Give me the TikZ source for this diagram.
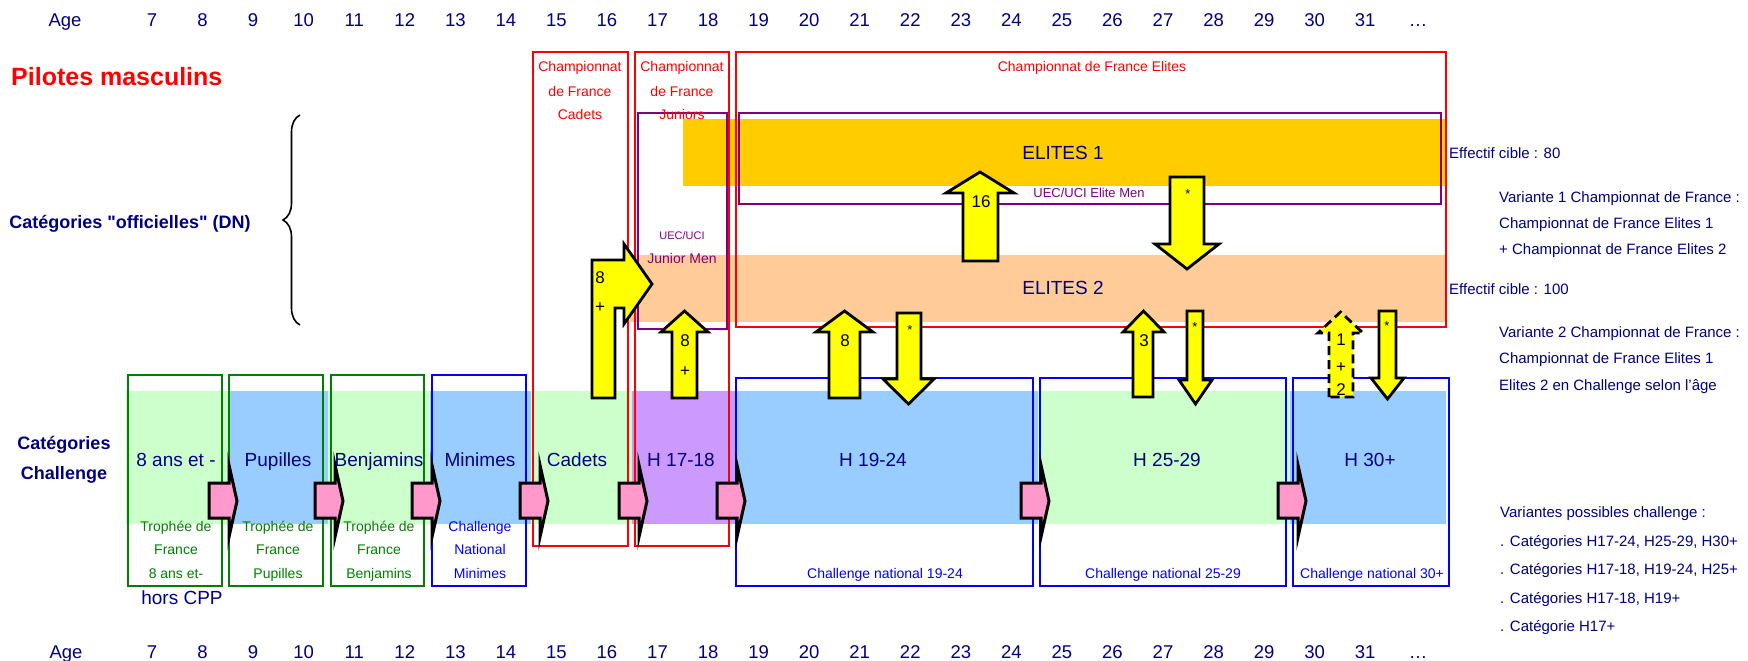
\documentclass[tikz,border=0pt]{standalone}
\usepackage{fontspec}
\setmainfont{Liberation Sans}
\newfontfamily\plainqfont{Liberation Sans}
\usetikzlibrary{decorations.pathreplacing}
\definecolor{navy}{HTML}{000080}
\definecolor{cRed}{HTML}{FF0000}
\definecolor{cPurp}{HTML}{800080}
\definecolor{cGreen}{HTML}{008000}
\definecolor{cBlue}{HTML}{0000FF}
\definecolor{bOrange}{HTML}{FFCC00}
\definecolor{bPeach}{HTML}{FFCC99}
\definecolor{bGreen}{HTML}{CCFFCC}
\definecolor{bBlue}{HTML}{99CCFF}
\definecolor{bPurp}{HTML}{CC99FF}
\definecolor{cPink}{HTML}{FF99CC}
\definecolor{cYel}{HTML}{FFFF00}
\newcommand{\fsz}[1]{\fontsize{#1}{#1}\selectfont}
\newcommand{\ArrP}[8]{\path[#1] (#2,#4) -- (#2,#5) -- (#6,#5) -- ({(#6+#7)/2},#8) -- (#7,#5) -- (#3,#5) -- (#3,#4) -- cycle;}
\tikzset{
  agelab/.style={inner sep=0pt, font=\fsz{18.5}, text=navy, text height=13.3pt, text depth=0pt},
  catlab/.style={inner sep=0pt, font=\fsz{19}, text=navy, text height=13.7pt, text depth=0pt},
  smlab/.style={inner sep=0pt, font=\fsz{14}, text height=10pt, text depth=0pt},
  tinylab/.style={inner sep=0pt, font=\fsz{11}, text height=8pt, text depth=0pt},
  rtlab/.style={inner sep=0pt, font=\fsz{15}, text=navy, anchor=west, text height=10.8pt, text depth=0pt},
  boldlab/.style={inner sep=0pt, font=\plainqfont\bfseries\fsz{18}, text=navy, text height=13pt, text depth=0pt},
  arrlab/.style={inner sep=0pt, font=\fsz{17}, text=black, text height=12.2pt, text depth=0pt},
  starlab/.style={inner sep=0pt, font=\fsz{13}, text=black},
  redbox/.style={draw=cRed, line width=2.8pt},
  purpbox/.style={draw=cPurp, line width=2.8pt},
  greenbox/.style={draw=cGreen, line width=2.8pt},
  bluebox/.style={draw=cBlue, line width=2.8pt},
  yarr/.style={fill=cYel, draw=black, line width=2.8pt},
  pinkarr/.style={fill=cPink, draw=black, line width=3pt},
}
\begin{document}
\begin{tikzpicture}[x=1pt,y=-1pt]
\useasboundingbox[fill=white] (0,0) rectangle (1748,661);

% ---- bands
\fill[bOrange] (683,119) rectangle (1446,186);
\fill[bPeach] (630,255) rectangle (1446,322);
\fill[bGreen] (126,391) rectangle (228,524);
\fill[bBlue] (228,391) rectangle (328,524);
\fill[bGreen] (328,391) rectangle (430,524);
\fill[bBlue] (430,391) rectangle (531,524);
\fill[bGreen] (531,391) rectangle (632,524);
\fill[bPurp] (632,391) rectangle (736,524);
\fill[bBlue] (736,391) rectangle (1038,524);
\fill[bGreen] (1038,391) rectangle (1290,524);
\fill[bBlue] (1290,391) rectangle (1446,524);

% ---- championship boxes
\draw[redbox] (533,52) rectangle (628,546);
\draw[redbox] (635,52) rectangle (729,546);
\draw[redbox] (736,52) rectangle (1446,327);
\draw[purpbox] (638,113) rectangle (727,329);
\draw[purpbox] (739,113) rectangle (1441,204);

% ---- challenge boxes
\draw[greenbox] (128,375) rectangle (222,586);
\draw[greenbox] (229,375) rectangle (323,586);
\draw[greenbox] (331,375) rectangle (424,586);
\draw[bluebox] (432,375) rectangle (526,586);
\draw[bluebox] (736,378) rectangle (1033,586);
\draw[bluebox] (1040,378) rectangle (1286,586);
\draw[bluebox] (1293,378) rectangle (1449,586);

% ---- brace
\draw[line width=1.6pt, decorate, decoration={brace, amplitude=17pt}] (300,325) -- (300,115);

% ---- pink arrows
\foreach \x in {209,315,412,520,619,717,1021,1278}
  \path[pinkarr] (\x,483) -- (\x+20,483) -- (\x+20,465) -- (\x+28,501) -- (\x+20,537) -- (\x+20,518) -- (\x,518) -- cycle;

% ---- yellow arrows
\path[yarr] (592,398) -- (592,260) -- (624,260) -- (624,244) -- (652,284) -- (624,324) -- (624,308) -- (615,308) -- (615,398) -- cycle;
\ArrP{yarr}{672}{697}{398}{332}{661}{708}{311}
\ArrP{yarr}{963}{998}{261}{193}{946}{1014}{172}
\ArrP{yarr}{1170}{1204}{177}{244}{1155}{1219}{269}
\ArrP{yarr}{829}{860}{398}{332}{816}{873}{311}
\ArrP{yarr}{897}{921}{313}{379}{883}{934}{404}
\ArrP{yarr}{1133}{1153}{397}{332}{1123}{1164}{311}
\ArrP{yarr}{1187}{1203}{311}{380}{1179}{1212}{404}
\ArrP{yarr,dash pattern=on 9pt off 5pt}{1329}{1353}{397}{333}{1318}{1363}{312}
\ArrP{yarr}{1379}{1396}{311}{378}{1371}{1404}{399}

% ---- arrow labels
\node[arrlab] (l8a) at (600,277) {8};
\node[arrlab] (lpa) at (600,306) {+};
\node[arrlab] (l8b) at (685,340) {8};
\node[arrlab] (lpb) at (685,370) {+};
\node[arrlab] (l16) at (981,201) {16};
\node[starlab] (s1) at (1188,194) {*};
\node[arrlab] (l8c) at (845,340) {8};
\node[starlab] (s2) at (910,330) {*};
\node[arrlab] (l3) at (1144,340) {3};
\node[starlab] (s3) at (1195,327) {*};
\node[arrlab] (l1) at (1341,339) {1};
\node[arrlab] (lpd) at (1341,366) {+};
\node[arrlab] (l2) at (1341,389) {2};
\node[starlab] (s4) at (1387,326) {*};

% ---- age rows
\node[agelab] (agetop) at (65,20) {Age};
\node[agelab] (agebot) at (66,652) {Age};
\foreach \n in {7,...,31} {
  \node[agelab] (top\n) at ({152+(\n-7)*50.55},20) {\n};
  \node[agelab] (bot\n) at ({152+(\n-7)*50.55},652) {\n};
}
\node[agelab] (topdots) at (1418,20) {…};
\node[agelab] (botdots) at (1418,652) {…};

% ---- left labels
\node[inner sep=0pt, anchor=west, font=\bfseries\fsz{25}, text=cRed, text height=18pt, text depth=0pt] (title) at (11,76) {Pilotes masculins};
\node[boldlab] (offic) at (130,222) {Catégories "officielles" (DN)};
\node[boldlab] (chal1) at (64,443) {Catégories};
\node[boldlab] (chal2) at (64,473) {Challenge};

% ---- championship texts
\node[smlab, text=cRed] (cc1) at (580,67) {Championnat};
\node[smlab, text=cRed] (cc2) at (580,91) {de France};
\node[smlab, text=cRed] (cc3) at (580,114) {Cadets};
\node[smlab, text=cRed] (cj1) at (682,67) {Championnat};
\node[smlab, text=cRed] (cj2) at (682,91) {de France};
\node[smlab, text=cRed] (cj3) at (682,114) {Juniors};
\node[smlab, text=cRed] (ce1) at (1092,67) {Championnat de France Elites};
\node[tinylab, text=cPurp] (uj1) at (682,235) {UEC/UCI};
\node[smlab, text=cPurp] (uj2) at (682,258) {Junior Men};
\node[smlab, font=\fsz{13}, text=cPurp] (ue) at (1089,192) {UEC/UCI Elite Men};
\node[catlab] (el1) at (1063,153) {ELITES 1};
\node[catlab] (el2) at (1063,288) {ELITES 2};

% ---- challenge category texts
\node[catlab] (k1) at (176,460) {8 ans et -};
\node[catlab] (k2) at (278,460) {Pupilles};
\node[catlab] (k3) at (379,460) {Benjamins};
\node[catlab] (k4) at (480,460) {Minimes};
\node[catlab] (k5) at (577,460) {Cadets};
\node[catlab] (k6) at (681,460) {H 17-18};
\node[catlab] (k7) at (873,460) {H 19-24};
\node[catlab] (k8) at (1167,460) {H 25-29};
\node[catlab] (k9) at (1370,460) {H 30+};
\node[catlab] (hcpp) at (182,598) {hors CPP};

\node[smlab, text=cGreen] (tr1a) at (176,526) {Trophée de};
\node[smlab, text=cGreen] (tr1b) at (176,549) {France};
\node[smlab, text=cGreen] (tr1c) at (176,573) {8 ans et-};
\node[smlab, text=cGreen] (tr2a) at (278,526) {Trophée de};
\node[smlab, text=cGreen] (tr2b) at (278,549) {France};
\node[smlab, text=cGreen] (tr2c) at (278,573) {Pupilles};
\node[smlab, text=cGreen] (tr3a) at (379,526) {Trophée de};
\node[smlab, text=cGreen] (tr3b) at (379,549) {France};
\node[smlab, text=cGreen] (tr3c) at (379,573) {Benjamins};
\node[smlab, text=cBlue] (cm1) at (480,526) {Challenge};
\node[smlab, text=cBlue] (cm2) at (480,549) {National};
\node[smlab, text=cBlue] (cm3) at (480,573) {Minimes};
\node[smlab, text=cBlue] (cn1) at (885,573) {Challenge national 19-24};
\node[smlab, text=cBlue] (cn2) at (1163,573) {Challenge national 25-29};
\node[smlab, text=cBlue] (cn3) at (1372,573) {Challenge national 30+};

% ---- right texts
\node[rtlab] (eff1) at (1449,153) {Effectif cible : 80};
\node[rtlab] (eff2) at (1449,289) {Effectif cible : 100};
\node[rtlab] (v1a) at (1499,197) {Variante 1 Championnat de France :};
\node[rtlab] (v1b) at (1499,223) {Championnat de France Elites 1};
\node[rtlab] (v1c) at (1499,249) {+ Championnat de France Elites 2};
\node[rtlab] (v2a) at (1499,332) {Variante 2 Championnat de France :};
\node[rtlab] (v2b) at (1499,358) {Championnat de France Elites 1};
\node[rtlab] (v2c) at (1499,385) {Elites 2 en Challenge selon l'âge};
\node[rtlab] (vp0) at (1500,512) {Variantes possibles challenge :};
\node[rtlab] (vp1) at (1500,541) {. Catégories H17-24, H25-29, H30+};
\node[rtlab] (vp2) at (1500,569) {. Catégories H17-18, H19-24, H25+};
\node[rtlab] (vp3) at (1500,598) {. Catégories H17-18, H19+};
\node[rtlab] (vp4) at (1500,626) {. Catégorie H17+};
\end{tikzpicture}
\end{document}
